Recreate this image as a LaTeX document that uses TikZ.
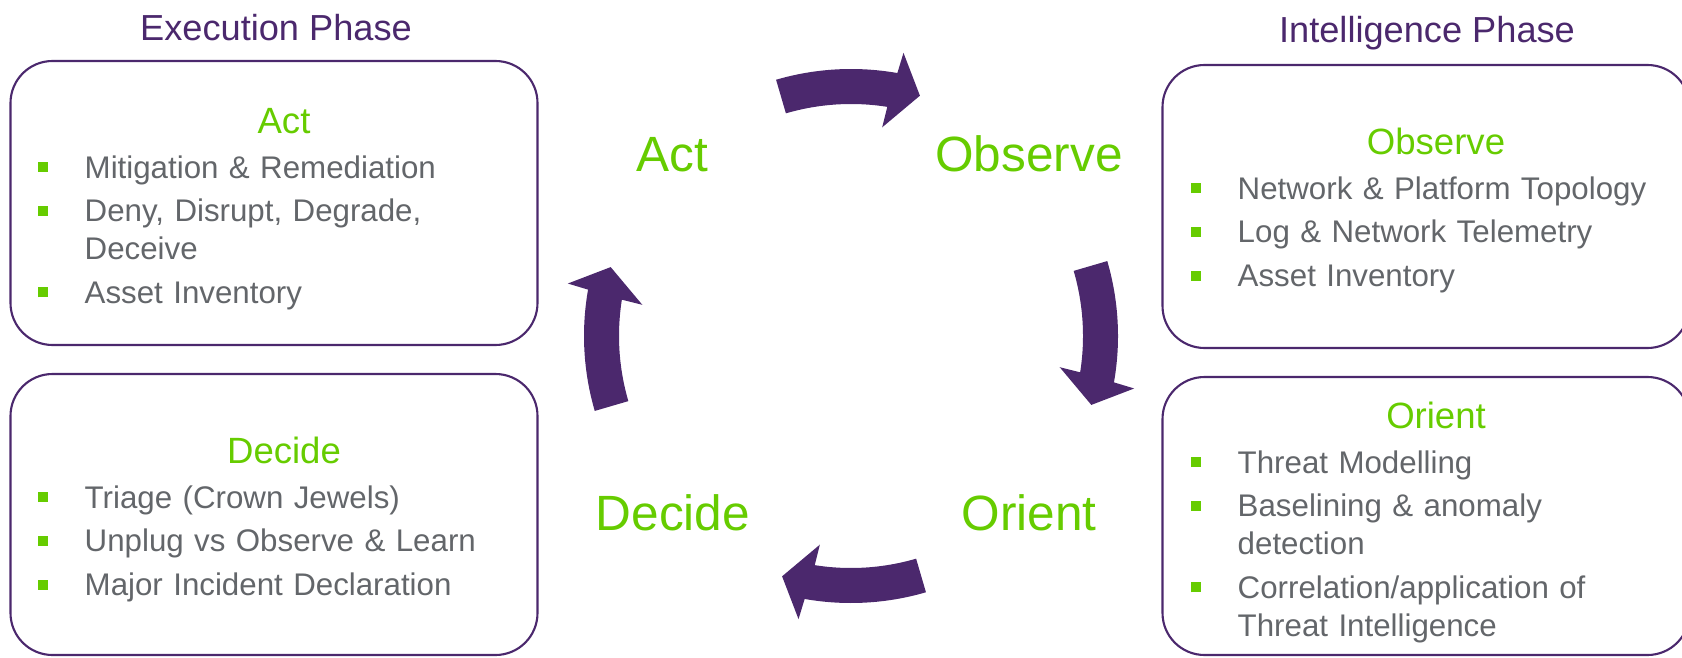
\documentclass[tikz,border=0pt]{standalone}
\usepackage{fontspec}
\setmainfont{Liberation Sans}
\usepackage{xcolor}
\usepackage{tikz}
\definecolor{ooPurple}{HTML}{4B286D}
\definecolor{ooGreen}{HTML}{66CC00}
\definecolor{ooGrey}{HTML}{63666A}
\newcommand{\sqbullet}{\makebox[4.7mm][l]{\textcolor{ooGreen}{\rule[0.6mm]{1mm}{1mm}}}}
\newcommand{\sqindent}{\hspace*{4.7mm}}
\tikzset{
  stagebox/.style={rectangle, rounded corners=4.2mm, draw=ooPurple, line width=0.6pt, minimum width=52.7mm, inner sep=0pt},
  boxtitle/.style={font=\fontsize{10.4}{12}\selectfont, text=ooGreen, anchor=base, inner sep=0pt},
  bulletlist/.style={font=\fontsize{8.9}{10.7}\selectfont, text=ooGrey, anchor=base west, align=left, text width=50mm, inner sep=0pt},
  looplabel/.style={font=\fontsize{14.1}{17}\selectfont, text=ooGreen, anchor=base, inner sep=0pt},
  phaselabel/.style={font=\fontsize{10.3}{12}\selectfont, text=ooPurple, anchor=base, inner sep=0pt},
  looparrow/.style={fill=ooPurple, draw=none},
}

\begin{document}
\begin{tikzpicture}[x=0.1mm,y=0.1mm]
  \useasboundingbox (0,0) rectangle (1682,657);

  % ---------- phase headings ----------
  \node[phaselabel] (execph) at (276,616) {Execution Phase};
  \node[phaselabel] (intelph) at (1427,614) {Intelligence Phase};

  % ---------- stage boxes ----------
  \node[stagebox, minimum height=28.4mm] (actbox)     at (274,454)    {};
  \node[stagebox, minimum height=28.1mm] (decidebox)  at (274,142.5)  {};
  \node[stagebox, minimum height=28.3mm] (observebox) at (1426,450.5) {};
  \node[stagebox, minimum height=27.8mm] (orientbox)  at (1426,141)   {};

  % ---------- execution phase ----------
  \node[boxtitle] (acttitle) at (284,524) {Act};
  \node[bulletlist] (actlist) at (37,479) {\sqbullet Mitigation \& Remediation\\[1.8pt]
    \sqbullet Deny, Disrupt, Degrade,\\ \sqindent Deceive\\[1.8pt]
    \sqbullet Asset Inventory};

  \node[boxtitle] (decidetitle) at (284,194) {Decide};
  \node[bulletlist] (decidelist) at (37,149) {\sqbullet Triage (Crown Jewels)\\[1.8pt]
    \sqbullet Unplug vs Observe \& Learn\\[1.8pt]
    \sqbullet Major Incident Declaration};

  % ---------- intelligence phase ----------
  \node[boxtitle] (observetitle) at (1436,503) {Observe};
  \node[bulletlist] (observelist) at (1190,458) {\sqbullet Network \& Platform Topology\\[1.8pt]
    \sqbullet Log \& Network Telemetry\\[1.8pt]
    \sqbullet Asset Inventory};

  \node[boxtitle] (orienttitle) at (1436,229) {Orient};
  \node[bulletlist] (orientlist) at (1190,184) {\sqbullet Threat Modelling\\[1.8pt]
    \sqbullet Baselining \& anomaly\\ \sqindent detection\\[1.8pt]
    \sqbullet Correlation/application of\\ \sqindent Threat Intelligence};

  % ---------- ooda loop ----------
  \coordinate (cyc) at (851,321);
  \node[looplabel] (loopact)     at (672,485)  {Act};
  \node[looplabel] (loopobserve) at (1029,485) {Observe};
  \node[looplabel] (loopdecide)  at (673,127)  {Decide};
  \node[looplabel] (looporient)  at (1029,127) {Orient};

  \foreach \a in {0,90,180,270}
    \fill[looparrow, shift={(cyc)}] ({106.3-\a}:267) arc[start angle={106.3-\a}, delta angle=-26.3, radius=267]
      -- ({79.5-\a}:288) -- ({74-\a}:250) -- ({81.5-\a}:211) -- ({81-\a}:232)
      arc[start angle={81-\a}, delta angle=25.3, radius=232] -- cycle;

\end{tikzpicture}
\end{document}
